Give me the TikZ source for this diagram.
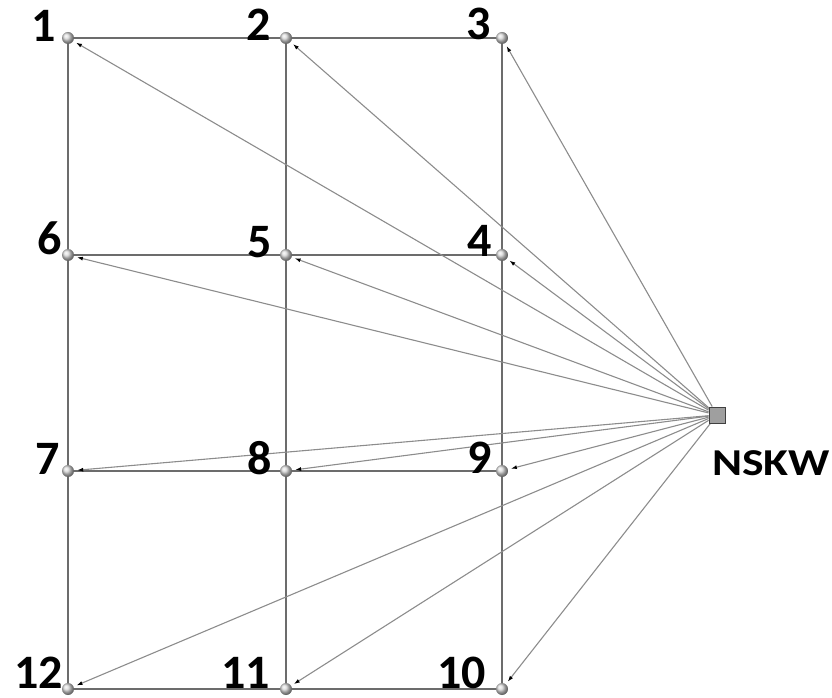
\documentclass[tikz,border=0pt]{standalone}
\usepackage{fontspec}
\setmainfont{Carlito}
\usetikzlibrary{arrows.meta}
\begin{document}
\begin{tikzpicture}[x=1pt,y=1pt,
  gridnode/.style={circle,inner sep=0pt,minimum size=12pt,draw=none},
  gridline/.style={draw=gray!85!black,line width=1.9pt},
  link/.style={draw=gray!90,line width=1.1pt,shorten >=3pt,-{Latex[black,length=6pt,width=4pt]}},
  lbl/.style={font=\fontsize{48}{48}\bfseries\selectfont,inner sep=0pt,anchor=base east},
  sink/.style={rectangle,draw=gray!50!black,fill=gray!75,minimum size=16pt,inner sep=0pt,line width=0.8pt}]
\useasboundingbox (0,0) rectangle (832,697);
% grid nodes (y = 697 - pixel row)
\node[gridnode] (n1)  at (68,659) {};
\node[gridnode] (n2)  at (286,659) {};
\node[gridnode] (n3)  at (502,659) {};
\node[gridnode] (n6)  at (68,442) {};
\node[gridnode] (n5)  at (286,442) {};
\node[gridnode] (n4)  at (502,442) {};
\node[gridnode] (n7)  at (68,226) {};
\node[gridnode] (n8)  at (286,226) {};
\node[gridnode] (n9)  at (502,226) {};
\node[gridnode] (n12) at (68,8) {};
\node[gridnode] (n11) at (286,8) {};
\node[gridnode] (n10) at (502,8) {};
\node[sink] (s) at (717,282) {};
\node[font=\fontsize{38}{38}\bfseries\selectfont,inner sep=0pt,anchor=base] (sl) at (771,222) {\scalebox{1.2}[1]{NSKW}};
% grid lines
\draw[gridline] (n1.center) -- (n2.center) -- (n3.center);
\draw[gridline] (n6.center) -- (n5.center) -- (n4.center);
\draw[gridline] (n7.center) -- (n8.center) -- (n9.center);
\draw[gridline] (n12.center) -- (n11.center) -- (n10.center);
\draw[gridline] (n1.center) -- (n6.center) -- (n7.center) -- (n12.center);
\draw[gridline] (n2.center) -- (n5.center) -- (n8.center) -- (n11.center);
\draw[gridline] (n3.center) -- (n4.center) -- (n9.center) -- (n10.center);
% links
\foreach \t in {n1,n2,n3,n4,n5,n6,n7,n8,n9,n10,n11,n12}
  \draw[link] (s) -- (\t);
% node discs on top
\foreach \t in {n1,n2,n3,n4,n5,n6,n7,n8,n9,n10,n11,n12}
  \shade[ball color=gray!30] (\t.center) circle (6pt);
\node[sink] at (s) {};
% labels
\node[lbl] (l1)  at ([shift={(-12,-4)}]n1.center) {1};
\node[lbl] (l2)  at ([shift={(-15,-3)}]n2.center) {2};
\node[lbl] (l3)  at ([shift={(-11,-2)}]n3.center) {3};
\node[lbl] (l4)  at ([shift={(-10,-2)}]n4.center) {4};
\node[lbl] (l5)  at ([shift={(-14,-3)}]n5.center) {5};
\node[lbl] (l6)  at ([shift={(-6,0)}]n6.center) {6};
\node[lbl] (l7)  at ([shift={(-8,-3)}]n7.center) {7};
\node[lbl] (l8)  at ([shift={(-14,-3)}]n8.center) {8};
\node[lbl] (l9)  at ([shift={(-10,-2)}]n9.center) {9};
\node[lbl] (l10) at ([shift={(-16,1)}]n10.center) {10};
\node[lbl] (l11) at ([shift={(-16,1)}]n11.center) {11};
\node[lbl] (l12) at ([shift={(-5,1)}]n12.center) {12};
\end{tikzpicture}
\end{document}
